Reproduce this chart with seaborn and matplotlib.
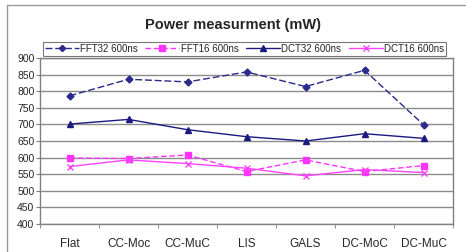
import pandas as pd
import matplotlib.pyplot as plt
import matplotlib.lines as mlines
from matplotlib.ticker import FixedLocator, NullFormatter
import seaborn as sns

# categories and measured power (mW)
designs = ['Flat', 'CC-Moc', 'CC-MuC', 'LIS', 'GALS', 'DC-MoC', 'DC-MuC']
fft32 = [786, 836, 828, 858, 814, 863, 699]
fft16 = [599, 597, 608, 558, 593, 558, 576]
dct32 = [701, 715, 684, 663, 650, 672, 658]
dct16 = [573, 593, 582, 568, 545, 564, 555]
series_names = ['FFT32 600ns', 'FFT16 600ns', 'DCT32 600ns', 'DCT16 600ns']

df = pd.DataFrame({
    'pos': list(range(len(designs))) * 4,
    'power': fft32 + fft16 + dct32 + dct16,
    'series': [s for s in series_names for _ in designs],
})

sns.set_style('white')
plt.rcParams['font.family'] = ['Liberation Sans', 'DejaVu Sans']

fig = plt.figure(figsize=(4.66, 2.52), dpi=100)
ax = fig.add_axes([40 / 466, 28 / 252, 413 / 466, 166 / 252])

styles = {
    'FFT32 600ns': dict(color='#2b2b8c', marker='D', dashes=(5, 2), markersize=3.5),
    'FFT16 600ns': dict(color='#ff33ff', marker='s', dashes=(4, 2), markersize=4.5),
    'DCT32 600ns': dict(color='#1a1a80', marker='^', dashes=None, markersize=4.5),
    'DCT16 600ns': dict(color='#ff44ff', marker='x', dashes=None, markersize=4.5),
}

for name in series_names:
    st = styles[name]
    sub = df[df['series'] == name]
    line_kw = dict(color=st['color'], marker=st['marker'], markersize=st['markersize'],
                   linewidth=1, markeredgewidth=1, markeredgecolor=st['color'],
                   label=name, ax=ax)
    if st['dashes'] is not None:
        line_kw['dashes'] = st['dashes']
    sns.lineplot(data=sub, x='pos', y='power', **line_kw)

ax.set_xlim(-0.5, 6.5)
ax.set_ylim(400, 900)
ax.set_yticks(range(400, 901, 50))
ax.yaxis.grid(True, color='#8c8c8c', linewidth=1)
ax.set_xticks(range(len(designs)))
ax.set_xticklabels(designs, fontsize=8.5)
ax.tick_params(axis='x', which='major', length=0, pad=10)
ax.xaxis.set_minor_locator(FixedLocator([i - 0.5 for i in range(len(designs) + 1)]))
ax.xaxis.set_minor_formatter(NullFormatter())
ax.tick_params(axis='x', which='minor', length=3, color='#808080', bottom=True)
ax.tick_params(axis='y', labelsize=7.5, length=3, left=True, color='#808080', pad=1)
ax.set_xlabel('')
ax.set_ylabel('')
for side in ax.spines.values():
    side.set_color('#808080')
    side.set_linewidth(1)

leg = ax.legend(loc='lower center', bbox_to_anchor=(0.5 - 2 / 413, 1.0),
                ncol=4, fontsize=7, frameon=True, fancybox=False, edgecolor='#555555',
                handlelength=3.5, handletextpad=0.15, borderpad=0.2, columnspacing=0.75,
                borderaxespad=0.25, markerscale=0.9)
leg.get_frame().set_linewidth(0.8)

fig.text(0.5, 1 - 25 / 252, 'Power measurment (mW)', ha='center', va='center',
         fontsize=10.5, fontweight='bold')

# outer chart-area border (only the top and left edges are visible)
fig.add_artist(mlines.Line2D([7 / 466, 1], [1 - 5 / 252, 1 - 5 / 252],
                             transform=fig.transFigure, color='#9a9a9a', linewidth=1))
fig.add_artist(mlines.Line2D([7 / 466, 7 / 466], [0, 1 - 5 / 252],
                             transform=fig.transFigure, color='#9a9a9a', linewidth=1))

plt.savefig('out.png', dpi=100)
